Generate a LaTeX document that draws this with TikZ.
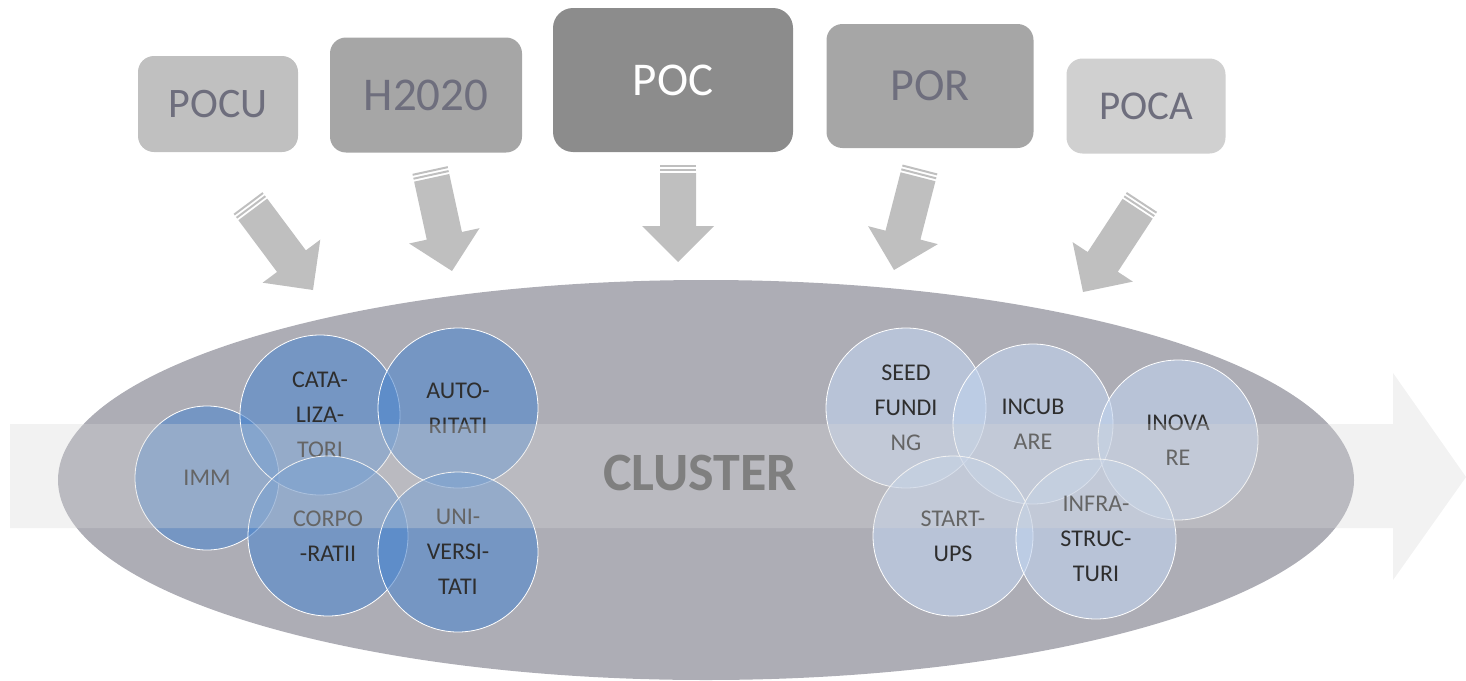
\documentclass[tikz,border=0pt]{standalone}
\usepackage{fontspec}
\setmainfont{Carlito}
\usetikzlibrary{calc}
\pgfdeclarelayer{bg}
\pgfdeclarelayer{fg}
\pgfsetlayers{bg,main,fg}

\definecolor{ovalgray}{RGB}{173,173,181}
\definecolor{feedgray}{RGB}{191,191,191}
\definecolor{labgray}{RGB}{110,110,125}
\definecolor{deepblue}{RGB}{80,135,205}
\definecolor{paleblue}{RGB}{192,210,238}
\definecolor{bandgray}{RGB}{215,215,215}

\tikzset{
  prog/.style={rounded corners=16pt, inner sep=0pt, text=labgray},
  bluecirc/.style={circle, minimum size=160pt, inner sep=0pt, fill=deepblue,
    fill opacity=0.6, text opacity=1, draw=white, line width=0.8pt,
    align=center, text=black!82, font=\fontsize{24}{35}\selectfont},
  palecirc/.style={bluecirc, fill=paleblue},
  feed/.style={fill=feedgray},
}

% striped block arrow from tail #1 to tip #2
\newcommand{\feedarrow}[2]{%
  \coordinate (#1-a) at ($(#1)!2pt!(#2)$);
  \coordinate (#1-b) at ($(#1)!4pt!(#2)$);
  \coordinate (#1-c) at ($(#1)!6pt!(#2)$);
  \coordinate (#1-d) at ($(#1)!8pt!(#2)$);
  \coordinate (#1-e) at ($(#2)!36pt!(#1)$);
  \fill[feed] ($(#1)!18pt!90:(#2)$) -- ($(#1-a)!18pt!90:(#2)$) -- ($(#1-a)!18pt!-90:(#2)$) -- ($(#1)!18pt!-90:(#2)$) -- cycle;
  \fill[feed] ($(#1-b)!18pt!90:(#2)$) -- ($(#1-c)!18pt!90:(#2)$) -- ($(#1-c)!18pt!-90:(#2)$) -- ($(#1-b)!18pt!-90:(#2)$) -- cycle;
  \fill[feed] ($(#1-d)!18pt!90:(#2)$) -- ($(#1-e)!18pt!90:(#2)$) -- ($(#1-e)!36pt!90:(#2)$) -- (#2)
    -- ($(#1-e)!36pt!-90:(#2)$) -- ($(#1-e)!18pt!-90:(#2)$) -- ($(#1-d)!18pt!-90:(#2)$) -- cycle;
}

\begin{document}
\begin{tikzpicture}[x=1pt, y=-1pt]
    \useasboundingbox (0,0) rectangle (1466,680);

    \begin{pgfonlayer}{bg}    % the cluster oval
        \fill[ovalgray] (706,480) ellipse [x radius=648pt, y radius=200pt];
    \end{pgfonlayer}

    \node [prog, fill={rgb,255:red,192;green,192;blue,192}, minimum width=160pt, minimum height=96pt, font=\fontsize{42}{42}\selectfont] (pocu) at (218,104) {POCU};
    \node [prog, fill={rgb,255:red,166;green,166;blue,166}, minimum width=192pt, minimum height=115pt, font=\fontsize{47}{47}\selectfont] (h2020) at (426,95) {H2020};
    \node [prog, fill={rgb,255:red,140;green,140;blue,140}, minimum width=240pt, minimum height=144pt, rounded corners=20pt, text=white, font=\fontsize{47}{47}\selectfont] (poc) at (673,80) {POC};
    \node [prog, fill={rgb,255:red,166;green,166;blue,166}, minimum width=207pt, minimum height=124pt, font=\fontsize{46}{46}\selectfont] (por) at (930,86) {POR};
    \node [prog, fill={rgb,255:red,208;green,208;blue,208}, minimum width=159pt, minimum height=95pt, font=\fontsize{41}{41}\selectfont] (poca) at (1146,106) {POCA};

    \coordinate (t1) at (248,203);  \coordinate (h1) at (313,290);
    \coordinate (t2) at (430,170);  \coordinate (h2) at (452,271);
    \coordinate (t3) at (678,165);  \coordinate (h3) at (678,262);
    \coordinate (t4) at (920,169);  \coordinate (h4) at (894,270);
    \coordinate (t5) at (1142,202); \coordinate (h5) at (1083,292);
    \feedarrow{t1}{h1}
    \feedarrow{t2}{h2}
    \feedarrow{t3}{h3}
    \feedarrow{t4}{h4}
    \feedarrow{t5}{h5}

    \node [bluecirc, minimum size=144pt] (imm) at (207,478) {IMM};
    \node [bluecirc] (cat) at (320,415) {CATA-\\LIZA-\\TORI};
    \node [bluecirc] (aut) at (458,408) {AUTO-\\RITATI};
    \node [bluecirc] (corp) at (328,536) {CORPO\\-RATII};
    \node [bluecirc] (univ) at (458,552) {UNI-\\VERSI-\\TATI};

    \node [palecirc] (seed) at (906,408) {SEED\\FUNDI\\NG};
    \node [palecirc] (incub) at (1033,424) {INCUB\\ARE};
    \node [palecirc] (inov) at (1178,440) {INOVA\\RE};
    \node [palecirc] (start) at (953,536) {START-\\UPS};
    \node [palecirc] (infra) at (1096,539) {INFRA-\\STRUC-\\TURI};

    \begin{pgfonlayer}{fg}    % the long arrow through the oval
        \fill[bandgray, fill opacity=0.33] (10,424) -- (1393,424) -- (1393,373) -- (1466,477)
            -- (1393,580) -- (1393,528) -- (10,528) -- cycle;
        \node [font=\bfseries\fontsize{54}{54}\selectfont, text={rgb,255:red,127;green,127;blue,127}] (cl) at (700,473) {CLUSTER};
    \end{pgfonlayer}

\end{tikzpicture}
\end{document}
